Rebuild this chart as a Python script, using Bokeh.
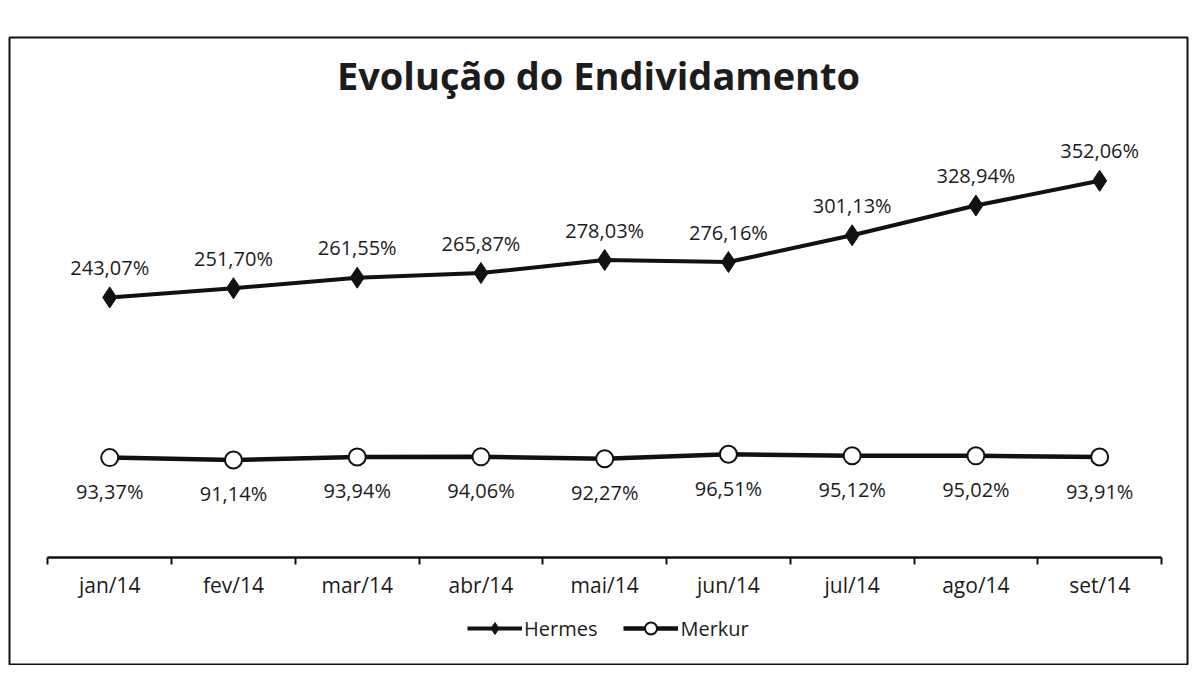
from bokeh.plotting import figure
from bokeh.models import (ColumnDataSource, FixedTicker, Legend, LegendItem, Range1d, Label)
from bokeh.core.properties import value
from bokeh.embed import file_html
from bokeh.resources import INLINE

months = ["jan/14", "fev/14", "mar/14", "abr/14", "mai/14", "jun/14", "jul/14", "ago/14", "set/14"]
hermes = [243.07, 251.70, 261.55, 265.87, 278.03, 276.16, 301.13, 328.94, 352.06]
merkur = [93.37, 91.14, 93.94, 94.06, 92.27, 96.51, 95.12, 95.02, 93.91]
title_text = "Evolução do Endividamento"

FONT = "Open Sans"
INK = "#111111"
TXT = "#1c1c1c"

def fmt(v):
    return f"{v:.2f}".replace(".", ",") + "%"

xs = list(range(1, len(months) + 1))
src_h = ColumnDataSource(dict(x=xs, y=hermes, lbl=[fmt(v) for v in hermes]))
src_m = ColumnDataSource(dict(x=xs, y=merkur, lbl=[fmt(v) for v in merkur]))

X0, X1 = 0.19, 9.71
Y0, Y1 = -100, 486
p = figure(width=1190, height=665, output_backend="svg", toolbar_location=None,
           x_range=Range1d(X0, X1), y_range=Range1d(Y0, Y1),
           min_border_left=9, min_border_right=3, min_border_top=37, min_border_bottom=1)
p.outline_line_color = INK
p.outline_line_width = 2
p.xgrid.visible = False
p.ygrid.visible = False
p.yaxis.visible = False

ax = p.xaxis[0]
ax.fixed_location = 0
ax.bounds = (0.5, len(months) + 0.5)
ax.ticker = FixedTicker(ticks=xs, minor_ticks=[i + 0.5 for i in range(len(months) + 1)])
ax.major_label_overrides = {i: m for i, m in zip(xs, months)}
ax.major_tick_out = 0
ax.major_tick_in = 0
ax.minor_tick_out = 7
ax.minor_tick_in = 0
ax.minor_tick_line_color = INK
ax.minor_tick_line_width = 2
ax.axis_line_color = INK
ax.axis_line_width = 2.5
ax.major_label_text_font = FONT
ax.major_label_text_font_size = "21px"
ax.major_label_text_color = TXT
ax.major_label_standoff = 6

p.add_layout(Label(x=(X0 + X1) / 2, y=451, text=title_text, text_font=FONT,
                   text_font_size="38px", text_font_style="bold", text_color=TXT,
                   text_align="center", text_baseline="middle"))

lh = p.line("x", "y", source=src_h, line_color=INK, line_width=4)
sh = p.scatter("x", "y", source=src_h, marker="diamond", size=21,
               fill_color=INK, line_color=INK)
lm = p.line("x", "y", source=src_m, line_color=INK, line_width=4.5)
sm = p.scatter("x", "y", source=src_m, marker="circle", size=17,
               fill_color="white", line_color=INK, line_width=2)

p.text("x", "y", text="lbl", source=src_h, text_font=value(FONT), text_font_size="20px",
       text_color=TXT, text_align="center", text_baseline="middle", y_offset=-30)
p.text("x", "y", text="lbl", source=src_m, text_font=value(FONT), text_font_size="20px",
       text_color=TXT, text_align="center", text_baseline="middle", y_offset=34)

legend = Legend(items=[LegendItem(label="Hermes", renderers=[lh, sh]),
                       LegendItem(label="Merkur", renderers=[lm, sm])],
                orientation="horizontal", location=(458, 21),
                label_text_font=FONT, label_text_font_size="20px", label_text_color=TXT,
                border_line_color=None, background_fill_alpha=0,
                glyph_width=55, glyph_height=30, label_standoff=2, spacing=26,
                padding=4, margin=0)
p.add_layout(legend)

open("out.html", "w").write(file_html(p, INLINE))
